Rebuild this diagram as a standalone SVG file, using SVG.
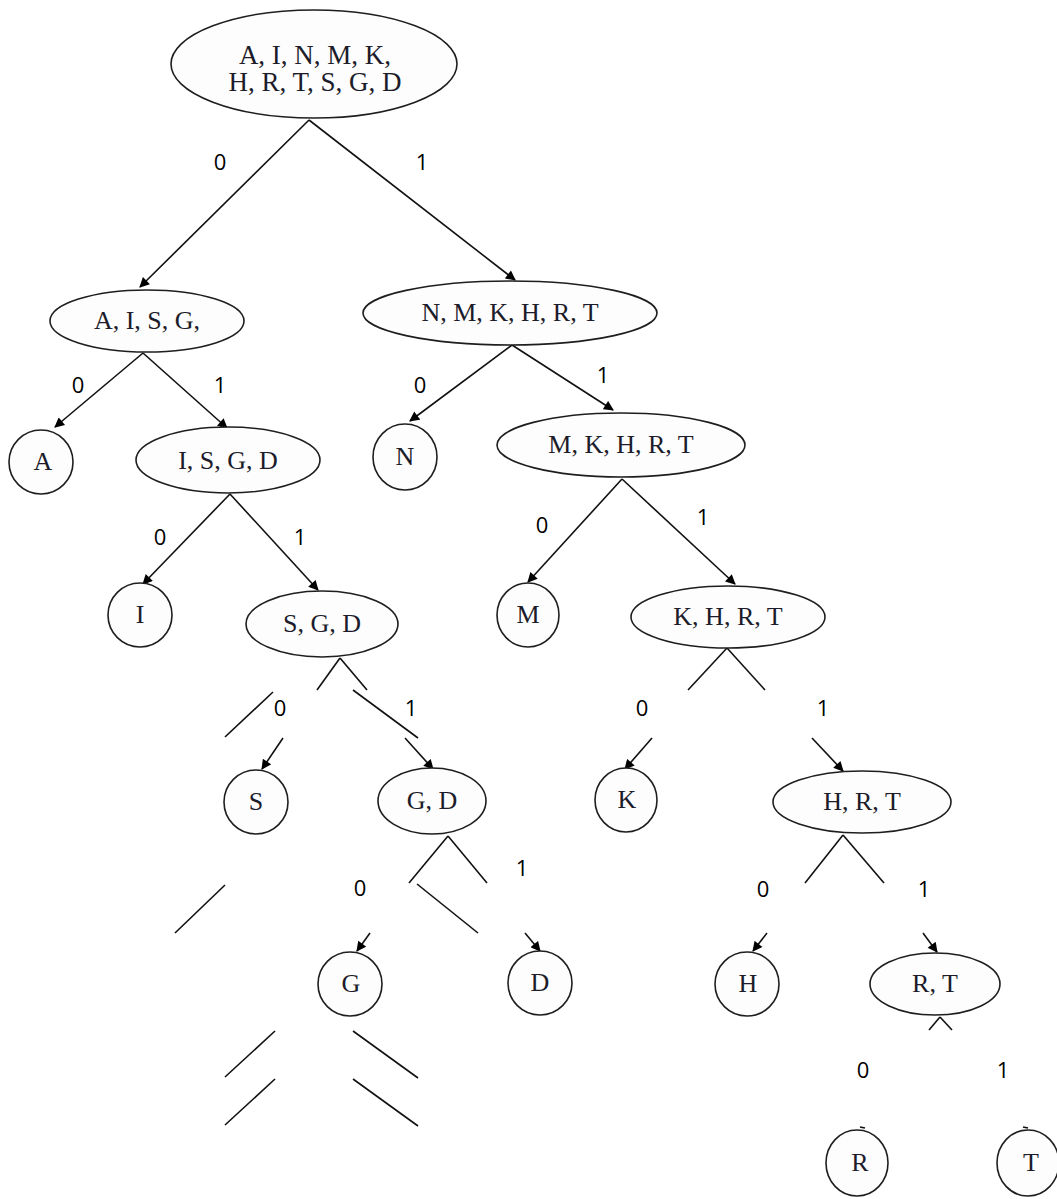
<svg xmlns="http://www.w3.org/2000/svg" width="1057" height="1199" viewBox="0 0 1057 1199">
<style>
.n ellipse{fill:#fdfdfd;stroke:#1e1e1e;stroke-width:1.6}
.n text{font-family:"Liberation Serif","Times New Roman",serif;font-size:26px;fill:#1c1c2a;text-anchor:middle}
.n text.big{font-size:27px}
.e line{stroke:#111;stroke-width:1.6;fill:none}
.e line.a{marker-end:url(#ah)}
.lbl{font-family:"Open Sans","Liberation Sans",sans-serif;font-size:22px;fill:#000;text-anchor:middle}
</style>
<defs>
<marker id="ah" viewBox="0 0 10 10" refX="9" refY="5" markerWidth="11" markerHeight="10" markerUnits="userSpaceOnUse" orient="auto">
<path d="M0,0 L10,5 L0,10 Z" fill="#000"/>
</marker>
</defs>
<rect width="1057" height="1199" fill="#fff"/>
<g class="e" id="connectors">
<line class="a" x1="309" y1="120" x2="140" y2="287"/>
<line class="a" x1="309" y1="120" x2="515" y2="280"/>
<line class="a" x1="143" y1="353" x2="55" y2="427"/>
<line class="a" x1="143" y1="353" x2="227" y2="428"/>
<line class="a" x1="512" y1="345" x2="410" y2="421"/>
<line class="a" x1="512" y1="345" x2="613" y2="410"/>
<line class="a" x1="230" y1="494" x2="143" y2="584"/>
<line class="a" x1="230" y1="494" x2="318" y2="590"/>
<line class="a" x1="622" y1="479" x2="528" y2="582"/>
<line class="a" x1="622" y1="479" x2="735" y2="584"/>
<line x1="340" y1="658" x2="317" y2="690"/>
<line x1="340" y1="658" x2="367" y2="690"/>
<line x1="225" y1="737" x2="273" y2="692"/>
<line x1="353" y1="690" x2="418" y2="738"/>
<line class="a" x1="283" y1="738" x2="262" y2="769"/>
<line class="a" x1="405" y1="738" x2="433" y2="769"/>
<line x1="727" y1="648" x2="688" y2="690"/>
<line x1="727" y1="648" x2="765" y2="690"/>
<line class="a" x1="652" y1="738" x2="625" y2="769"/>
<line class="a" x1="812" y1="738" x2="843" y2="771"/>
<line x1="448" y1="836" x2="409" y2="883"/>
<line x1="448" y1="836" x2="487" y2="883"/>
<line x1="417" y1="884" x2="478" y2="933"/>
<line class="a" x1="525" y1="933" x2="540" y2="951"/>
<line x1="175" y1="933" x2="225" y2="885"/>
<line class="a" x1="370" y1="933" x2="357" y2="951"/>
<line x1="843" y1="835" x2="805" y2="883"/>
<line x1="843" y1="835" x2="884" y2="883"/>
<line class="a" x1="767" y1="933" x2="753" y2="951"/>
<line class="a" x1="923" y1="933" x2="937" y2="952"/>
<line x1="940" y1="1017" x2="929" y2="1030"/>
<line x1="940" y1="1017" x2="952" y2="1030"/>
<line x1="860" y1="1127" x2="865" y2="1128"/>
<line x1="1023" y1="1127" x2="1028" y2="1128"/>
<line x1="275" y1="1031" x2="225" y2="1077"/>
<line x1="275" y1="1079" x2="225" y2="1125"/>
<line x1="353" y1="1031" x2="418" y2="1078"/>
<line x1="353" y1="1079" x2="418" y2="1126"/>
</g>
<g id="labels" class="lbl">
<text class="lbl" x="220" y="170">0</text>
<text class="lbl" x="422" y="170">1</text>
<text class="lbl" x="78" y="393">0</text>
<text class="lbl" x="220" y="393">1</text>
<text class="lbl" x="420" y="393">0</text>
<text class="lbl" x="603" y="383">1</text>
<text class="lbl" x="160" y="545">0</text>
<text class="lbl" x="300" y="545">1</text>
<text class="lbl" x="542" y="533">0</text>
<text class="lbl" x="703" y="525">1</text>
<text class="lbl" x="280" y="716">0</text>
<text class="lbl" x="411" y="716">1</text>
<text class="lbl" x="642" y="716">0</text>
<text class="lbl" x="823" y="716">1</text>
<text class="lbl" x="360" y="896">0</text>
<text class="lbl" x="522" y="876">1</text>
<text class="lbl" x="763" y="897">0</text>
<text class="lbl" x="924" y="897">1</text>
<text class="lbl" x="863" y="1078">0</text>
<text class="lbl" x="1003" y="1078">1</text>
</g>
<g class="n" id="n_root"><ellipse cx="314" cy="64" rx="143" ry="54"/><text class="big" x="315" y="64">A, I, N, M, K,</text><text class="big" x="315" y="91">H, R, T, S, G, D</text></g>
<g class="n" id="n_AISG"><ellipse cx="147" cy="321" rx="97" ry="31"/><text x="147" y="329">A, I, S, G,</text></g>
<g class="n" id="n_NMKHRT"><ellipse cx="510" cy="313" rx="147" ry="32"/><text x="510" y="321">N, M, K, H, R, T</text></g>
<g class="n" id="n_A"><ellipse cx="41" cy="462" rx="32" ry="32"/><text x="43" y="470">A</text></g>
<g class="n" id="n_ISGD"><ellipse cx="228" cy="460" rx="92" ry="33"/><text x="228" y="469">I, S, G, D</text></g>
<g class="n" id="n_N"><ellipse cx="405" cy="457" rx="32" ry="33"/><text x="405" y="465">N</text></g>
<g class="n" id="n_MKHRT"><ellipse cx="621" cy="445" rx="124" ry="32"/><text x="621" y="453">M, K, H, R, T</text></g>
<g class="n" id="n_I"><ellipse cx="140" cy="615" rx="32" ry="32"/><text x="140" y="623">I</text></g>
<g class="n" id="n_SGD"><ellipse cx="322" cy="624" rx="76" ry="33"/><text x="322" y="632">S, G, D</text></g>
<g class="n" id="n_M"><ellipse cx="528" cy="615" rx="31" ry="32"/><text x="528" y="623">M</text></g>
<g class="n" id="n_KHRT"><ellipse cx="728" cy="617" rx="97" ry="31"/><text x="728" y="625">K, H, R, T</text></g>
<g class="n" id="n_S"><ellipse cx="256" cy="802" rx="32" ry="32"/><text x="256" y="810">S</text></g>
<g class="n" id="n_GD"><ellipse cx="432" cy="801" rx="54" ry="33"/><text x="432" y="809">G, D</text></g>
<g class="n" id="n_K"><ellipse cx="626" cy="800" rx="31" ry="32"/><text x="627" y="808">K</text></g>
<g class="n" id="n_HRT"><ellipse cx="862" cy="802" rx="89" ry="31"/><text x="862" y="810">H, R, T</text></g>
<g class="n" id="n_G"><ellipse cx="350" cy="984" rx="32" ry="32"/><text x="351" y="992">G</text></g>
<g class="n" id="n_D"><ellipse cx="540" cy="983" rx="32" ry="32"/><text x="540" y="991">D</text></g>
<g class="n" id="n_H"><ellipse cx="747" cy="984" rx="32" ry="32"/><text x="748" y="992">H</text></g>
<g class="n" id="n_RT"><ellipse cx="935" cy="984" rx="65" ry="31"/><text x="935" y="992">R, T</text></g>
<g class="n" id="n_R"><ellipse cx="857" cy="1163" rx="31" ry="33"/><text x="860" y="1171">R</text></g>
<g class="n" id="n_T"><ellipse cx="1028" cy="1163" rx="31" ry="33"/><text x="1031" y="1171">T</text></g>
</svg>
